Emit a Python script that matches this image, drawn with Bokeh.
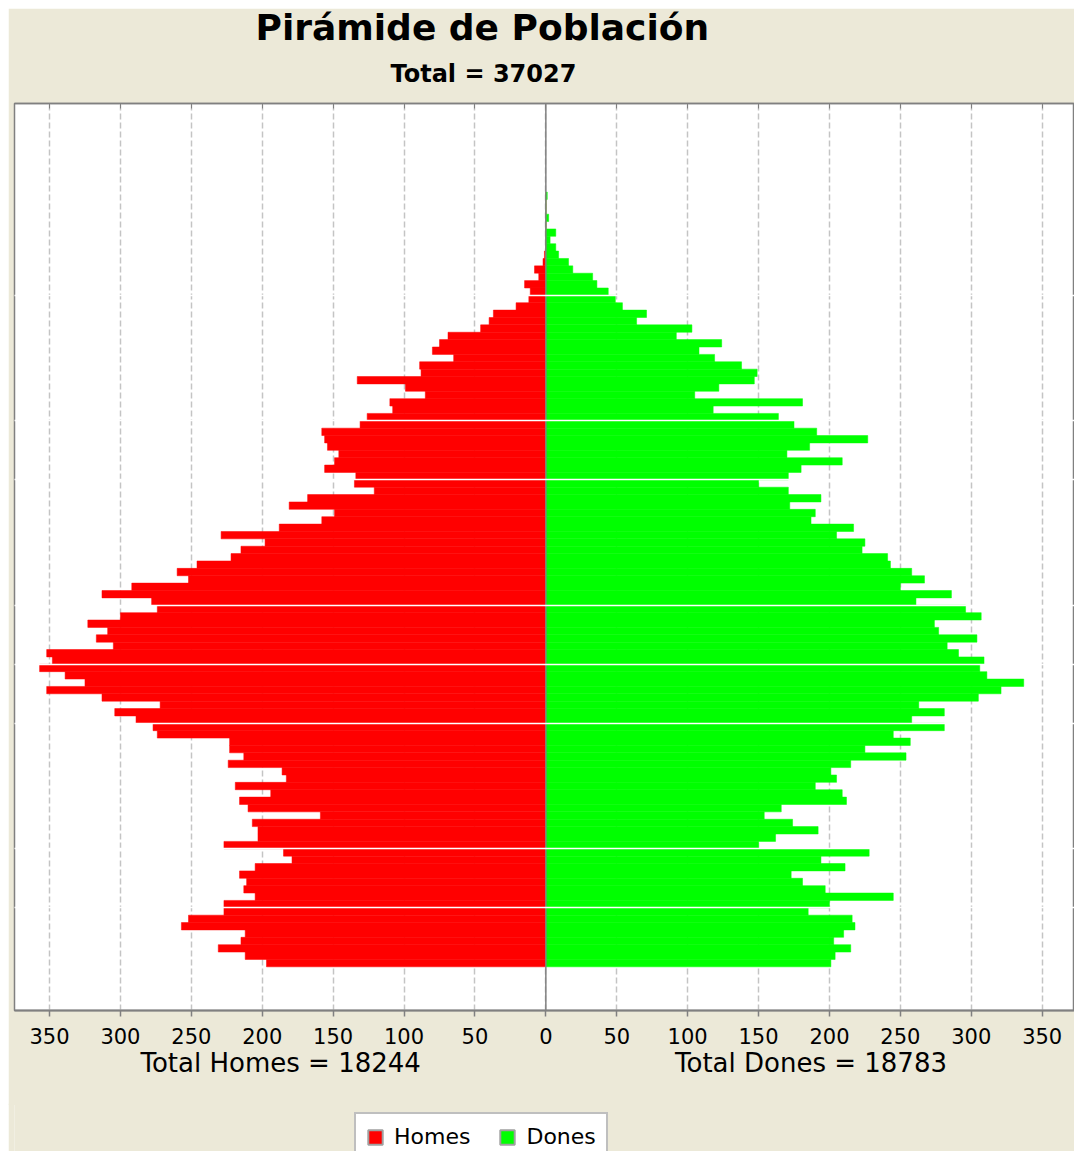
from bokeh.plotting import figure
from bokeh.layouts import column
from bokeh.models import (Range1d, FixedTicker, LinearAxis, Span, Title,
                          Legend, LegendItem)
from bokeh.embed import file_html
from bokeh.resources import INLINE

# ---------------- data ----------------
ages = list(range(105))

homes = [197, 212, 231, 215, 212, 257, 252, 227, 227, 205,
         213, 211, 216, 205, 179, 185, 227, 203, 203, 207,
         159, 210, 216, 194, 219, 183, 186, 224, 213, 223,
         223, 274, 277, 289, 304, 272, 313, 352, 325, 339,
         357, 348, 352, 305, 317, 309, 323, 300, 274, 278,
         313, 292, 252, 260, 246, 222, 215, 198, 229, 188,
         158, 149, 181, 168, 121, 135, 134, 156, 149, 146,
         154, 156, 158, 131, 126, 108, 110, 85, 99, 133,
         88, 89, 65, 80, 75, 69, 46, 40, 37, 21,
         12, 11, 15, 5, 8, 2, 1, 0, 0, 0,
         0, 0, 0, 0, 0]

dones = [201, 204, 215, 203, 210, 218, 216, 185, 200, 245,
         197, 181, 173, 211, 194, 228, 150, 162, 192, 174,
         154, 166, 212, 209, 190, 205, 201, 215, 254, 225,
         257, 245, 281, 258, 281, 263, 305, 321, 337, 311,
         306, 309, 291, 283, 304, 277, 274, 307, 296, 261,
         286, 250, 267, 258, 243, 241, 223, 225, 205, 217,
         187, 190, 172, 194, 171, 150, 171, 180, 209, 170,
         186, 227, 191, 175, 164, 118, 181, 105, 122, 147,
         149, 138, 119, 108, 124, 92, 103, 64, 71, 54,
         49, 44, 36, 33, 19, 16, 9, 7, 3, 7,
         0, 2, 0, 0, 1]

tick_values = list(range(-350, 351, 50))
tick_labels = [str(abs(t)) for t in tick_values]

series_names = ["Homes", "Dones"]
series_colors = ["#FF0000", "#00FF00"]

title_text = "Pirámide de Población"
subtitle_text = "Total = 37027"
total_texts = ["Total Homes = 18244", "Total Dones = 18783"]

# ---------------- styling / layout ----------------
BEIGE = "#ECE9D8"
GRAY = "#808080"
FONT = "DejaVu Sans"
W = 1066
band_breaks = [7.5, 15.5, 32.5, 40.5, 48.5, 65.5, 73.5, 90.5]
total_positions = [-187, 187]   # centre of each half of the axis

# ---- main pyramid ----
p = figure(width=W, height=1097,
           x_range=Range1d(-374.7, 372.8), y_range=Range1d(-6.42, 116.5),
           output_backend="svg", toolbar_location=None, title_location=None,
           min_border_left=6, min_border_right=0,
           min_border_top=95, min_border_bottom=95,
           border_fill_color=BEIGE, background_fill_color="white",
           outline_line_color=GRAY, outline_line_width=1.5)

p.xgrid.ticker = FixedTicker(ticks=tick_values)
p.xgrid.grid_line_color = "#C4C4C4"
p.xgrid.grid_line_dash = "6 3"
p.xgrid.grid_line_width = 1.5

p.ygrid.ticker = FixedTicker(ticks=band_breaks)
p.ygrid.grid_line_color = "white"
p.ygrid.grid_line_width = 1.5
p.ygrid.level = "overlay"

neg_homes = [-v for v in homes]
p.hbar(y=ages, left=neg_homes, right=0, height=1.0,
       fill_color=series_colors[0], line_color=series_colors[0], line_width=0.5)
p.hbar(y=ages, left=0, right=dones, height=1.0,
       fill_color=series_colors[1], line_color=series_colors[1], line_width=0.5)

p.add_layout(Span(location=0, dimension="height", line_color=GRAY, line_width=1.5))

p.yaxis.visible = False
xa = p.xaxis[0]
xa.ticker = FixedTicker(ticks=tick_values)
xa.major_label_overrides = dict(zip(tick_values, tick_labels))
xa.major_label_text_font = FONT
xa.major_label_text_font_size = "21px"
xa.major_label_text_color = "black"
xa.major_label_standoff = 11
xa.axis_line_color = GRAY
xa.axis_line_width = 2
xa.major_tick_line_color = GRAY
xa.major_tick_line_width = 1.5
xa.major_tick_out = 6
xa.major_tick_in = 0
xa.minor_tick_line_color = None

totals_axis = LinearAxis(ticker=FixedTicker(ticks=total_positions),
                         major_label_overrides=dict(zip(total_positions, total_texts)),
                         axis_line_color=None, major_tick_line_color=None,
                         minor_tick_line_color=None, major_label_standoff=-5,
                         major_label_text_font=FONT, major_label_text_font_size="26px",
                         major_label_text_color="black")
p.add_layout(totals_axis, "below")

top_axis = LinearAxis(ticker=FixedTicker(ticks=tick_values),
                      major_label_overrides={t: "" for t in tick_values},
                      major_label_text_font_size="1px", major_label_standoff=0,
                      axis_line_color=GRAY, axis_line_width=1.5,
                      major_tick_line_color=GRAY, major_tick_in=5, major_tick_out=0,
                      minor_tick_line_color=None)
p.add_layout(top_axis, "above")

p.add_layout(Title(text=subtitle_text, align="left", offset=376, standoff=31,
                   text_font=FONT, text_font_style="bold", text_font_size="24px",
                   text_color="black"), "above")
p.add_layout(Title(text=title_text, align="left", offset=241, standoff=-10,
                   text_font=FONT, text_font_style="bold", text_font_size="36px",
                   text_color="black"), "above")

# ---- legend strip ----
bottom = figure(width=W, height=48, x_range=Range1d(0, W), y_range=Range1d(0, 48),
                output_backend="svg", toolbar_location=None, title_location=None,
                x_axis_location=None, y_axis_location=None, min_border=0,
                border_fill_color=BEIGE, background_fill_color=BEIGE,
                outline_line_color=None, margin=(-2, 0, 0, 0))
bottom.grid.visible = False
# hidden proxies that only lend their style to the legend swatches
leg_h = bottom.hbar(y=ages, left=neg_homes, right=0, height=1.0, visible=False,
                    fill_color=series_colors[0], line_color="#A0A0A0", line_width=2)
leg_d = bottom.hbar(y=ages, left=0, right=dones, height=1.0, visible=False,
                    fill_color=series_colors[1], line_color="#A0A0A0", line_width=2)
legend = Legend(items=[LegendItem(label=series_names[0], renderers=[leg_h]),
                       LegendItem(label=series_names[1], renderers=[leg_d])],
                orientation="horizontal", location=(340, -10),
                border_line_color=GRAY, border_line_width=2,
                background_fill_color="white", background_fill_alpha=1.0,
                inactive_fill_alpha=0.0,
                padding=10, margin=0, spacing=28, glyph_width=18, glyph_height=18,
                label_standoff=10, label_text_font=FONT, label_text_font_size="22px",
                label_text_color="black", label_height=20)
bottom.add_layout(legend)

layout = column(p, bottom, spacing=0, margin=(8, 0, 0, 8))
open("out.html", "w").write(file_html(layout, INLINE))
